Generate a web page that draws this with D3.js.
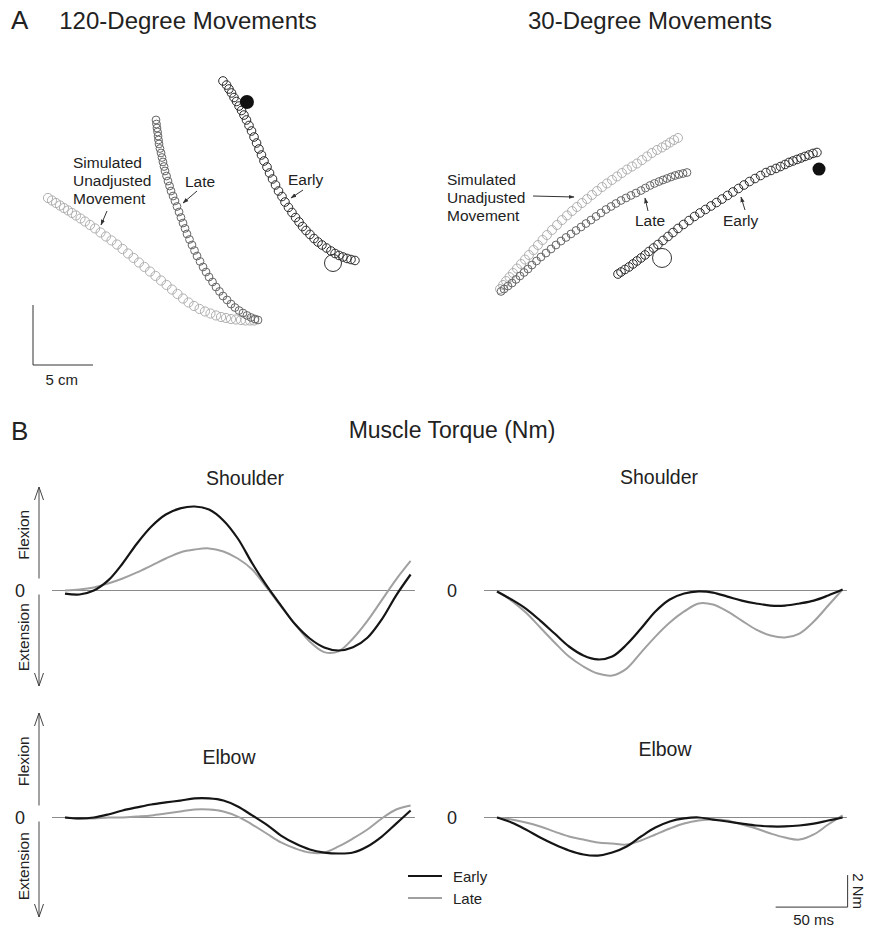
<!DOCTYPE html>
<html>
<head>
<meta charset="utf-8">
<script src="https://cdn.jsdelivr.net/npm/d3@7"></script>
<style>
  body { margin: 0; background: #fff; }
  text { font-family: "Liberation Sans", Arial, sans-serif; fill: #222; }
</style>
</head>
<body>
<script>
// ---- Panel A: hand path samples (cm) ----
var early120 = [[15.83,23.67],[16.13,23.33],[16.33,23.0],[16.54,22.67],[16.75,22.29],[16.96,21.96],[17.17,21.58],[17.38,21.21],[17.58,20.83],[17.79,20.42],[18.0,19.96],[18.21,19.5],[18.42,19.0],[18.63,18.5],[18.83,18.0],[19.04,17.5],[19.25,17.0],[19.5,16.5],[19.71,16.0],[19.96,15.5],[20.21,15.0],[20.46,14.5],[20.75,14.04],[21.0,13.58],[21.29,13.13],[21.58,12.71],[21.88,12.29],[22.17,11.92],[22.46,11.54],[22.75,11.21],[23.08,10.88],[23.42,10.54],[23.75,10.25],[24.08,10.0],[24.46,9.75],[24.83,9.5],[25.17,9.29],[25.5,9.13],[25.83,9.0],[26.17,8.88],[26.5,8.79],[26.83,8.71]];
var late120 = [[10.25,20.42],[10.29,20.08],[10.33,19.75],[10.38,19.42],[10.42,19.08],[10.46,18.75],[10.5,18.42],[10.58,18.04],[10.67,17.67],[10.75,17.29],[10.83,16.92],[10.92,16.54],[11.0,16.17],[11.13,15.75],[11.25,15.33],[11.38,14.92],[11.5,14.5],[11.67,14.08],[11.83,13.67],[12.0,13.21],[12.17,12.75],[12.33,12.29],[12.5,11.83],[12.67,11.38],[12.83,10.92],[13.04,10.46],[13.25,10.0],[13.46,9.54],[13.67,9.08],[13.92,8.63],[14.17,8.17],[14.42,7.75],[14.67,7.33],[14.96,6.92],[15.25,6.5],[15.54,6.13],[15.83,5.75],[16.17,5.42],[16.5,5.08],[16.83,4.79],[17.17,4.54],[17.5,4.33],[17.83,4.13],[18.17,3.96],[18.5,3.83],[18.75,3.75]];
var sim120 = [[1.25,13.92],[1.58,13.71],[1.92,13.5],[2.25,13.29],[2.58,13.08],[2.92,12.88],[3.25,12.67],[3.58,12.46],[3.96,12.21],[4.33,11.96],[4.75,11.67],[5.17,11.38],[5.63,11.04],[6.08,10.71],[6.54,10.38],[7.0,10.04],[7.46,9.67],[7.92,9.29],[8.38,8.92],[8.83,8.54],[9.29,8.17],[9.75,7.79],[10.21,7.42],[10.67,7.04],[11.13,6.67],[11.58,6.29],[12.04,5.92],[12.5,5.54],[12.96,5.21],[13.42,4.92],[13.88,4.67],[14.33,4.46],[14.79,4.29],[15.25,4.13],[15.67,4.0],[16.08,3.92],[16.5,3.83],[16.92,3.79],[17.33,3.75],[17.71,3.71],[18.08,3.71],[18.42,3.71]];
var early30 = [[30.33,17.71],[30.0,17.63],[29.67,17.5],[29.33,17.38],[29.0,17.25],[28.67,17.13],[28.33,17.0],[28.0,16.88],[27.67,16.71],[27.29,16.54],[26.92,16.38],[26.5,16.21],[26.08,16.04],[25.63,15.79],[25.17,15.54],[24.71,15.29],[24.25,15.0],[23.79,14.71],[23.33,14.42],[22.88,14.13],[22.42,13.83],[21.96,13.54],[21.5,13.25],[21.04,12.96],[20.58,12.67],[20.13,12.38],[19.67,12.04],[19.21,11.71],[18.75,11.38],[18.33,11.04],[17.92,10.71],[17.5,10.38],[17.08,10.04],[16.71,9.75],[16.33,9.46],[16.0,9.17],[15.67,8.92],[15.33,8.67],[15.0,8.42],[14.67,8.17],[14.33,7.96],[14.0,7.75],[13.75,7.58]];
var late30 = [[19.5,16.04],[19.17,15.96],[18.83,15.88],[18.5,15.79],[18.17,15.67],[17.83,15.54],[17.5,15.42],[17.17,15.29],[16.79,15.13],[16.42,14.96],[16.04,14.75],[15.67,14.54],[15.25,14.33],[14.83,14.13],[14.42,13.92],[14.0,13.71],[13.58,13.46],[13.17,13.21],[12.75,12.96],[12.33,12.67],[11.92,12.38],[11.5,12.08],[11.08,11.79],[10.67,11.5],[10.25,11.21],[9.83,10.92],[9.42,10.63],[9.0,10.33],[8.58,10.0],[8.17,9.67],[7.75,9.33],[7.33,9.0],[6.96,8.67],[6.58,8.33],[6.25,8.0],[5.92,7.71],[5.58,7.42],[5.25,7.13],[4.92,6.83],[4.58,6.58],[4.25,6.33],[4.0,6.13]];
var sim30 = [[18.75,18.92],[18.42,18.75],[18.08,18.54],[17.75,18.33],[17.42,18.13],[17.0,17.92],[16.58,17.67],[16.17,17.38],[15.75,17.08],[15.33,16.79],[14.92,16.54],[14.5,16.29],[14.08,16.0],[13.67,15.71],[13.25,15.42],[12.83,15.13],[12.42,14.83],[12.0,14.5],[11.58,14.17],[11.17,13.83],[10.75,13.5],[10.33,13.17],[9.92,12.83],[9.5,12.46],[9.08,12.08],[8.67,11.67],[8.25,11.25],[7.83,10.83],[7.46,10.42],[7.08,10.0],[6.71,9.58],[6.33,9.17],[6.0,8.79],[5.67,8.42],[5.33,8.04],[5.0,7.67],[4.71,7.33],[4.42,7.0],[4.17,6.67],[3.92,6.33]];
var startTarget120 = [17.83, 21.92];
var endTarget120 = [25.0, 8.5];
var startTarget30 = [30.5, 16.33];
var endTarget30 = [17.42, 8.92];

// ---- Panel B: muscle torque (Nm) vs time (ms) ----
var torqueTime = [0,10,20,30,40,50,60,70,80,90,100,110,120,130,140,150,160,170,180,190,200,210,220,230,240];
var shoulder120Early = [-0.19,-0.25,0,0.63,1.69,2.94,4.0,4.75,5.13,5.25,5.06,4.38,3.25,1.7,0.3,-0.94,-2.13,-3.0,-3.56,-3.75,-3.55,-2.95,-1.8,-0.3,1.0];
var shoulder120Late = [0,0.06,0.19,0.44,0.75,1.13,1.56,2.0,2.38,2.56,2.63,2.44,2.0,1.31,0.19,-1.0,-2.13,-3.2,-3.85,-3.8,-3.0,-1.9,-0.6,0.7,1.85];
var shoulder30Early = [-0.06,-0.56,-1.13,-1.88,-2.69,-3.5,-4.06,-4.31,-4.13,-3.38,-2.38,-1.31,-0.56,-0.19,-0.06,-0.13,-0.38,-0.63,-0.81,-0.94,-0.94,-0.81,-0.63,-0.31,0.06];
var shoulder30Late = [-0.06,-0.63,-1.38,-2.31,-3.25,-4.13,-4.75,-5.19,-5.31,-4.88,-3.88,-2.88,-2.0,-1.31,-0.81,-0.88,-1.31,-1.88,-2.44,-2.81,-2.94,-2.69,-1.94,-0.94,0.06];
var elbow120Early = [0,-0.06,0,0.19,0.44,0.63,0.81,0.94,1.06,1.19,1.19,1.06,0.69,0.13,-0.44,-1.13,-1.63,-2.0,-2.19,-2.25,-2.19,-1.81,-1.19,-0.38,0.44];
var elbow120Late = [0,-0.06,-0.06,0,0,0.06,0.13,0.25,0.38,0.5,0.5,0.38,0.06,-0.44,-1.0,-1.56,-1.94,-2.19,-2.19,-1.81,-1.31,-0.75,-0.06,0.5,0.75];
var elbow30Early = [0,-0.31,-0.75,-1.25,-1.69,-2.06,-2.31,-2.38,-2.19,-1.81,-1.19,-0.63,-0.25,-0.06,0,-0.13,-0.25,-0.38,-0.5,-0.56,-0.56,-0.5,-0.38,-0.19,0];
var elbow30Late = [0,-0.13,-0.31,-0.56,-0.88,-1.19,-1.38,-1.56,-1.63,-1.69,-1.44,-1.06,-0.69,-0.38,-0.19,-0.13,-0.19,-0.44,-0.69,-1.0,-1.25,-1.38,-1.06,-0.44,0.13];
var zeroLineSpan = [-9, 243];

var width = 869, height = 933;
var svg = d3.select("body").append("svg")
    .attr("width", width)
    .attr("height", height);

var defs = svg.append("defs");
defs.append("marker")
    .attr("id", "tip")
    .attr("viewBox", "0 0 10 10")
    .attr("refX", 9).attr("refY", 5)
    .attr("markerWidth", 6).attr("markerHeight", 6)
    .attr("orient", "auto")
  .append("path")
    .attr("d", "M0,1.5 L10,5 L0,8.5 Z")
    .attr("fill", "#333");

// ---------------- Panel A ----------------
var cmPx = 12;
var xA120 = d3.scaleLinear().domain([0, 1]).range([33, 33 + cmPx]);
var xA30 = d3.scaleLinear().domain([0, 1]).range([453, 453 + cmPx]);
var yA = d3.scaleLinear().domain([0, 1]).range([365, 365 - cmPx]);

svg.append("text").attr("x", 11).attr("y", 29).attr("font-size", 26).text("A");
svg.append("text").attr("x", 188).attr("y", 29).attr("font-size", 24)
    .attr("text-anchor", "middle").text("120-Degree Movements");
svg.append("text").attr("x", 650).attr("y", 29).attr("font-size", 24)
    .attr("text-anchor", "middle").text("30-Degree Movements");

function drawTrack(xs, pts, r, color) {
    svg.append("g").selectAll("circle")
        .data(pts)
        .join("circle")
        .attr("cx", d => xs(d[0]))
        .attr("cy", d => yA(d[1]))
        .attr("r", r)
        .attr("fill", "none")
        .attr("stroke", color)
        .attr("stroke-width", 1);
}

drawTrack(xA120, sim120, 4.6, "#b0b0b0");
drawTrack(xA120, late120, 3.9, "#666");
drawTrack(xA120, early120, 4.3, "#2a2a2a");
drawTrack(xA30, sim30, 4.5, "#b0b0b0");
drawTrack(xA30, late30, 3.9, "#666");
drawTrack(xA30, early30, 4.3, "#2a2a2a");

svg.append("circle").attr("cx", xA120(startTarget120[0])).attr("cy", yA(startTarget120[1]))
    .attr("r", 7).attr("fill", "#111");
svg.append("circle").attr("cx", xA120(endTarget120[0])).attr("cy", yA(endTarget120[1]))
    .attr("r", 8.5).attr("fill", "none").attr("stroke", "#333").attr("stroke-width", 1);
svg.append("circle").attr("cx", xA30(startTarget30[0])).attr("cy", yA(startTarget30[1]))
    .attr("r", 6.5).attr("fill", "#111");
svg.append("circle").attr("cx", xA30(endTarget30[0])).attr("cy", yA(endTarget30[1]))
    .attr("r", 9.5).attr("fill", "none").attr("stroke", "#333").attr("stroke-width", 1);

function label(lines, x, y, size) {
    var t = svg.append("text").attr("font-size", size);
    lines.forEach(function (s, i) {
        t.append("tspan").attr("x", x).attr("y", y + i * 18).attr("dy", "0.35em").text(s);
    });
}
function pointer(x1, y1, x2, y2) {
    svg.append("line")
        .attr("x1", x1).attr("y1", y1).attr("x2", x2).attr("y2", y2)
        .attr("stroke", "#333").attr("stroke-width", 1)
        .attr("marker-end", "url(#tip)");
}

label(["Simulated", "Unadjusted", "Movement"], 73, 163, 15.5);
pointer(107, 211, 101, 225);
label(["Late"], 185, 182, 15.5);
pointer(197, 191, 183, 203);
label(["Early"], 288, 180, 15.5);
pointer(303, 190, 291, 198);

label(["Simulated", "Unadjusted", "Movement"], 447, 180, 15.5);
pointer(533, 196, 574, 197);
label(["Late"], 635, 221, 15.5);
pointer(648, 211, 645, 198);
label(["Early"], 723, 221, 15.5);
pointer(745, 210, 741, 197);

// 5 cm scale bar
svg.append("path")
    .attr("d", "M" + xA120(0) + "," + yA(5) + " V" + yA(0) + " H" + xA120(5))
    .attr("fill", "none").attr("stroke", "#333").attr("stroke-width", 1);
svg.append("text").attr("x", xA120(2.4)).attr("y", 380).attr("dy", "0.35em")
    .attr("font-size", 15).attr("text-anchor", "middle").text("5 cm");

// ---------------- Panel B ----------------
svg.append("text").attr("x", 11).attr("y", 440).attr("font-size", 26).text("B");
svg.append("text").attr("x", 452).attr("y", 438).attr("font-size", 23)
    .attr("text-anchor", "middle").text("Muscle Torque (Nm)");

var msPx = 1.44, nmPx = 16;
var xB = [
    d3.scaleLinear().domain([0, 240]).range([65, 65 + 240 * msPx]),
    d3.scaleLinear().domain([0, 240]).range([497, 497 + 240 * msPx])
];
var yB = [
    d3.scaleLinear().domain([0, 1]).range([590.5, 590.5 - nmPx]),
    d3.scaleLinear().domain([0, 1]).range([817.5, 817.5 - nmPx])
];

var panels = [
    { col: 0, row: 0, title: "Shoulder", tx: 245, ty: 478, early: shoulder120Early, late: shoulder120Late },
    { col: 1, row: 0, title: "Shoulder", tx: 659, ty: 477, early: shoulder30Early, late: shoulder30Late },
    { col: 0, row: 1, title: "Elbow", tx: 229, ty: 757, early: elbow120Early, late: elbow120Late },
    { col: 1, row: 1, title: "Elbow", tx: 665, ty: 749, early: elbow30Early, late: elbow30Late }
];

panels.forEach(function (p) {
    var x = xB[p.col], y = yB[p.row];
    var g = svg.append("g");
    g.append("text").attr("x", p.tx).attr("y", p.ty).attr("dy", "0.35em")
        .attr("font-size", 19.5).attr("text-anchor", "middle").text(p.title);
    g.append("line")
        .attr("x1", x(zeroLineSpan[0])).attr("x2", x(zeroLineSpan[1]))
        .attr("y1", y(0)).attr("y2", y(0))
        .attr("stroke", "#8a8a8a").attr("stroke-width", 1);
    g.append("text").attr("x", x(zeroLineSpan[0]) - 37).attr("y", y(0)).attr("dy", "0.35em")
        .attr("font-size", 18).text("0");

    var line = d3.line()
        .x((d, i) => x(torqueTime[i]))
        .y(d => y(d))
        .curve(d3.curveCatmullRom.alpha(0.5));
    g.append("path").datum(p.late).attr("d", line)
        .attr("fill", "none").attr("stroke", "#a0a0a0").attr("stroke-width", 2);
    g.append("path").datum(p.early).attr("d", line)
        .attr("fill", "none").attr("stroke", "#151515").attr("stroke-width", 2.2);
});

// Flexion / Extension direction arrows (left column)
function dirArrow(x, yFrom, yTip) {
    var s = yTip < yFrom ? 1 : -1;
    svg.append("path")
        .attr("d", "M" + x + "," + yFrom + " V" + yTip +
            " M" + (x - 4.5) + "," + (yTip + s * 13) + " L" + x + "," + yTip +
            " L" + (x + 4.5) + "," + (yTip + s * 13))
        .attr("fill", "none").attr("stroke", "#444").attr("stroke-width", 1);
}
function sideText(s, x, y) {
    svg.append("text")
        .attr("transform", "translate(" + x + "," + y + ") rotate(-90)")
        .attr("dy", "0.35em").attr("font-size", 15.5)
        .attr("text-anchor", "middle").text(s);
}
[[yB[0], 487, 686], [yB[1], 713, 917]].forEach(function (r) {
    var y0 = r[0](0);
    dirArrow(39, y0 - 12, r[1]);
    dirArrow(39, y0 + 4, r[2]);
    sideText("Flexion", 24, (y0 - 12 + r[1]) / 2 + 2);
    sideText("Extension", 24, (y0 + 4 + r[2]) / 2 - 3);
});

// legend
var legend = [["Early", "#151515", 2.2, 876], ["Late", "#a0a0a0", 2, 898]];
legend.forEach(function (l) {
    svg.append("line").attr("x1", 408).attr("x2", 442).attr("y1", l[3]).attr("y2", l[3])
        .attr("stroke", l[1]).attr("stroke-width", l[2]);
    svg.append("text").attr("x", 453).attr("y", l[3] + 1).attr("dy", "0.35em")
        .attr("font-size", 15).text(l[0]);
});

// 50 ms / 2 Nm scale bar
var xs = xB[1], ys = yB[1];
var barT = 193.5, barV = -5.6;
svg.append("path")
    .attr("d", "M" + xs(barT) + "," + ys(barV) + " H" + xs(barT + 50) + " V" + ys(barV + 2))
    .attr("fill", "none").attr("stroke", "#333").attr("stroke-width", 1);
svg.append("text").attr("x", xs(barT + 25) + 2).attr("y", ys(barV) + 13).attr("dy", "0.35em")
    .attr("font-size", 15).attr("text-anchor", "middle").text("50 ms");
svg.append("text")
    .attr("transform", "translate(" + (xs(barT + 50) + 11) + "," + ys(barV + 1) + ") rotate(90)")
    .attr("dy", "0.35em").attr("font-size", 15).attr("text-anchor", "middle").text("2 Nm");
</script>
</body>
</html>
